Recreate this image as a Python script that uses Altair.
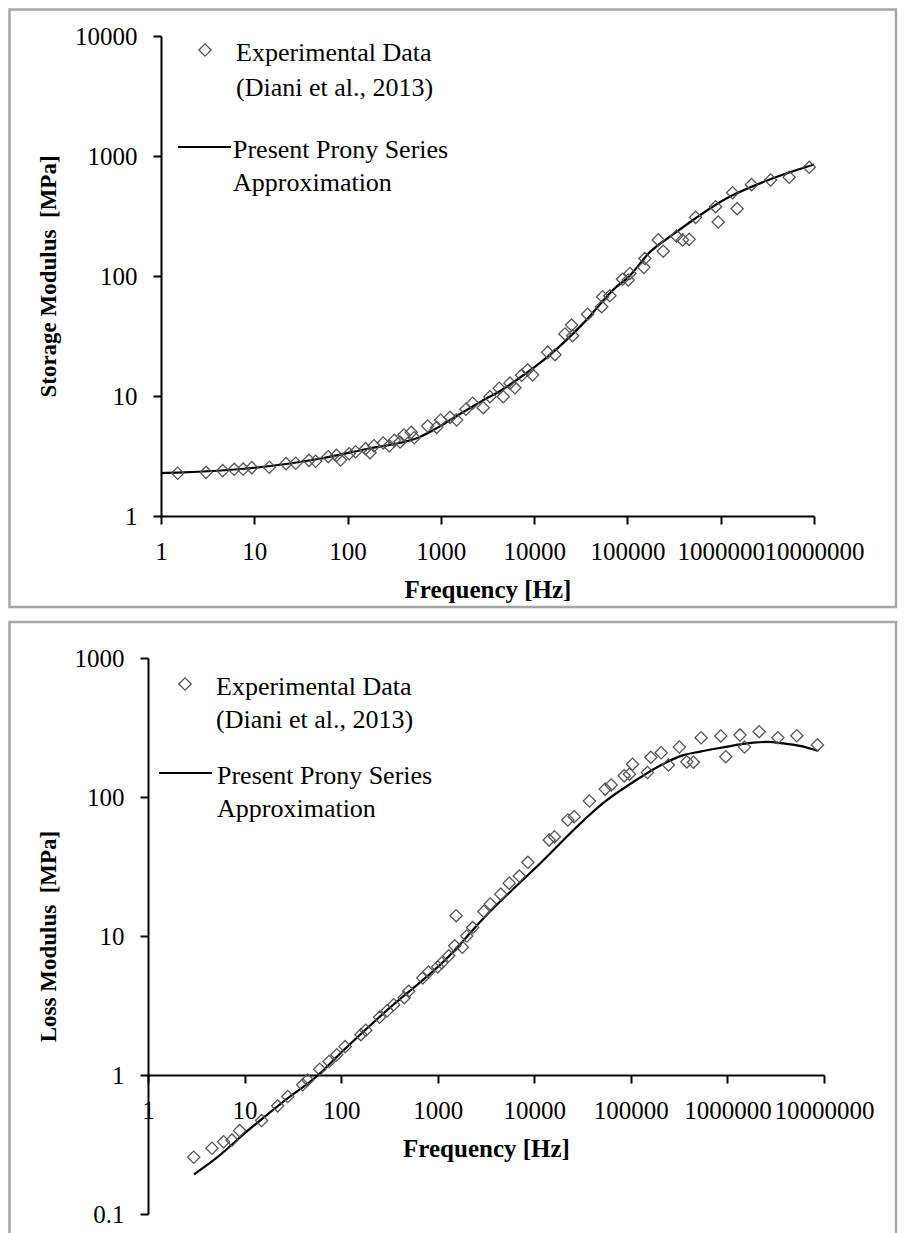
import altair as alt
import pandas as pd

# ---------------- data ----------------
# Storage modulus (top panel) - experimental points
top_freq = [1.51, 3.04, 4.58, 6.1, 7.6, 9.4, 14.5, 21.9, 27.8, 38.6, 45.5, 62, 76, 84, 104, 122, 156, 174,
            192, 241, 280, 317, 365, 402, 482, 519, 722, 902, 995, 1253, 1477, 1857, 2193, 2846, 3357,
            4227, 4670, 5505, 6230, 7345, 8510, 9630, 13960, 16720, 21400, 25230, 25850, 37400, 54200,
            53000, 64900, 88700, 102000, 106400, 154000, 150000, 214000, 242000, 336000, 390000, 459000,
            538000, 881000, 940000, 1.34e6, 1.50e6, 2.14e6, 3.43e6, 5.42e6, 8.89e6]
top_storage = [2.27, 2.31, 2.39, 2.45, 2.46, 2.53, 2.55, 2.73, 2.75, 2.91, 2.86, 3.12, 3.2, 2.93, 3.3, 3.43,
               3.64, 3.37, 3.85, 4.06, 3.85, 4.27, 4.14, 4.73, 4.98, 4.49, 5.62, 5.48, 6.31, 6.64, 6.31,
               7.75, 8.7, 7.99, 9.87, 11.6, 9.87, 12.8, 11.7, 14.9, 16.5, 15.0, 23.1, 22.1, 32.9, 39,
               31.8, 48, 67.2, 55.5, 68.5, 93.9, 92.6, 105, 140, 118, 200, 161, 215, 200, 202, 308, 378,
               282, 494, 364, 577, 631, 665, 805]
# Storage modulus - Prony series curve
top_fit_freq = [1, 1.5, 9, 46.6, 160, 550, 1890, 3100, 4230, 6490, 14760, 33600, 76600, 100000, 174000,
                316000, 538000, 1e6, 1.34e6, 3.4e6, 1e7]
top_fit_storage = [2.28, 2.3, 2.5, 2.97, 3.62, 4.44, 7.64, 9.57, 10.9, 13.6, 22, 40.3, 81.5, 96, 158,
                   225, 303, 416, 470, 640, 850]

# Loss modulus (bottom panel) - experimental points
bot_freq = [2.97, 4.6, 6.06, 7.4, 8.88, 15, 22, 28, 40, 45, 60, 75, 90, 110, 160, 180, 250, 300, 350, 450,
            500, 700, 800, 1000, 1100, 1300, 1500, 1550, 1800, 2000, 2300, 3000, 3500, 4500, 5500, 7000,
            8590, 14260, 16180, 22280, 25880, 37240, 54200, 62500, 85300, 96800, 104000, 148500,
            161000, 206000, 245000, 318000, 380000, 445000, 534000, 855000, 962000, 1.35e6, 1.50e6,
            2.13e6, 3.33e6, 5.23e6, 8.55e6]
bot_loss = [0.256, 0.297, 0.331, 0.34, 0.398, 0.47, 0.6, 0.7, 0.85, 0.92, 1.1, 1.25, 1.4, 1.6, 1.95, 2.1,
            2.6, 2.9, 3.2, 3.6, 4.0, 5.0, 5.5, 6.0, 6.4, 7.2, 8.5, 14, 8.3, 10, 11.5, 15, 17, 20, 24, 27,
            33.9, 49.1, 51.8, 68.3, 72.2, 93.6, 114, 122, 142, 146, 172, 150, 193, 208, 170, 229, 179,
            178, 267, 275, 195, 279, 229, 295, 267, 276, 237]
# Loss modulus - Prony series curve
bot_fit_freq = [3, 5, 10, 26.4, 58, 100, 275, 1347, 3000, 10200, 56500, 100000, 200000, 350000, 521000,
                860000, 1.86e6, 2.56e6, 3.8e6, 5.65e6, 8.75e6]
bot_fit_loss = [0.193, 0.25, 0.38, 0.66, 1.0, 1.45, 2.78, 7.3, 13.5, 30.7, 95, 125, 168, 200, 212,
                226, 246, 249, 243, 233, 214]

# axis tick values and texts
x_ticks = [1, 10, 100, 1000, 10000, 100000, 1000000, 10000000]
top_y_ticks = [1, 10, 100, 1000, 10000]
bot_y_ticks = [0.1, 1, 10, 100, 1000]
x_title = "Frequency [Hz]"
top_y_title = "Storage Modulus \u00a0[MPa]"
bot_y_title = "Loss Modulus \u00a0[MPa]"
legend_exp = ["Experimental Data", "(Diani et al., 2013)"]
legend_fit = ["Present Prony Series", "Approximation"]

# ---------------- layout (canvas pixels) ----------------
W, H = 890, 1225
FONT = "Liberation Serif, Times New Roman, serif"

top_x_range = [153, 806]
top_y_range = [508, 28]
bot_x_range = [140, 816]
bot_y_range = [1206, 650]

top_pts_df = pd.DataFrame({"f": top_freq, "v": top_storage})
top_fit_df = pd.DataFrame({"f": top_fit_freq, "v": top_fit_storage})
bot_pts_df = pd.DataFrame({"f": bot_freq, "v": bot_loss})
bot_fit_df = pd.DataFrame({"f": bot_fit_freq, "v": bot_fit_loss})
one = pd.DataFrame({"k": [0]})

axis_common = dict(
    grid=False, domainColor="black", domainWidth=2, tickColor="black", tickWidth=2, tickSize=8,
    labelFont=FONT, labelFontSize=25, labelColor="black", labelOverlap=False, labelFlush=False,
    labelBound=False, titleFont=FONT, titleFontWeight="bold", titleColor="black",
)


def panel(pts_df, fit_df, xr, yr, y_dom, y_vals, y_title, x_offset, y_offset):
    xs = alt.Scale(type="log", domain=[1, 1e7], range=xr, nice=False)
    ys = alt.Scale(type="log", domain=y_dom, range=yr, nice=False)
    x_axis = alt.Axis(orient="bottom", offset=x_offset, values=x_ticks,
                      labelExpr="format(datum.value, 'd')", title=x_title,
                      labelPadding=15, titlePadding=13, titleFontSize=25, **axis_common)
    y_axis = alt.Axis(orient="left", offset=y_offset, values=y_vals,
                      labelExpr="datum.value < 1 ? format(datum.value, '.1f') : format(datum.value, 'd')",
                      title=y_title, labelPadding=16, titlePadding=14, titleFontSize=23, **axis_common)
    line = alt.Chart(fit_df).mark_line(color="black", strokeWidth=2.2, interpolate="monotone").encode(
        x=alt.X("f:Q", scale=xs, axis=x_axis),
        y=alt.Y("v:Q", scale=ys, axis=y_axis),
    )
    pts = alt.Chart(pts_df).mark_point(shape="diamond", filled=False, color="#555555",
                                       strokeWidth=1.3, size=150, opacity=1).encode(
        x=alt.X("f:Q", scale=xs, axis=x_axis),
        y=alt.Y("v:Q", scale=ys, axis=y_axis),
    )
    return alt.layer(line, pts)


top = panel(top_pts_df, top_fit_df, top_x_range, top_y_range, [1, 10000], top_y_ticks,
            top_y_title, 508 - H, -153)
bot = panel(bot_pts_df, bot_fit_df, bot_x_range, bot_y_range, [0.1, 1000], bot_y_ticks,
            bot_y_title, 1067 - H, -140)


def txt(s, x, y):
    return alt.Chart(one).mark_text(font=FONT, fontSize=26, align="left", baseline="middle",
                                    color="black").encode(
        text=alt.value(s), x=alt.value(x), y=alt.value(y))


def diamond(x, y):
    return alt.Chart(one).mark_point(shape="diamond", filled=False, color="#555555", strokeWidth=1.3,
                                     size=150, opacity=1).encode(x=alt.value(x), y=alt.value(y))


def legline(x1, x2, y):
    return alt.Chart(one).mark_rule(color="black", strokeWidth=2.2).encode(
        x=alt.value(x1), x2=alt.value(x2), y=alt.value(y))


def frame(x1, y1, x2, y2):
    return alt.Chart(one).mark_rect(fill=None, stroke="#a6a6a6", strokeWidth=2.5).encode(
        x=alt.value(x1), x2=alt.value(x2), y=alt.value(y1), y2=alt.value(y2))


legend_layers = [
    frame(1.5, 1.5, 888, 599),
    frame(1.5, 614, 888, 1240),
    diamond(197, 42), txt(legend_exp[0], 228, 45), txt(legend_exp[1], 228, 80),
    legline(170, 223, 139), txt(legend_fit[0], 225, 142), txt(legend_fit[1], 225, 175),
    diamond(177, 676), txt(legend_exp[0], 208, 679), txt(legend_exp[1], 208, 712),
    legline(151, 204, 765), txt(legend_fit[0], 209, 768), txt(legend_fit[1], 209, 801),
]

chart = alt.layer(top, bot, *legend_layers).resolve_scale(
    x="independent", y="independent"
).properties(
    width=W, height=H, autosize=alt.AutoSizeParams(type="none"), padding=0,
    background="white",
).configure_view(stroke=None)

chart.save("out.html", embed_options={"renderer": "svg", "actions": False})
